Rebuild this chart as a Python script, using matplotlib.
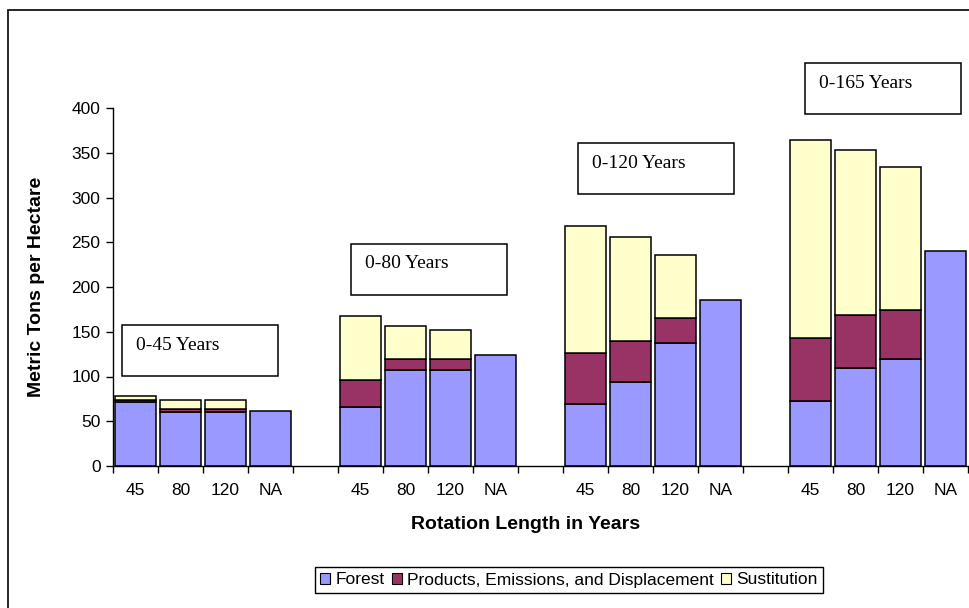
import matplotlib
matplotlib.use("Agg")
import matplotlib.pyplot as plt
from matplotlib.patches import Rectangle, Patch

# Values (metric tons per hectare)
periods = ["0-45 Years", "0-80 Years", "0-120 Years", "0-165 Years"]
rotations = ["45", "80", "120", "NA"]
forest = [
    [72, 60, 60, 61],
    [66, 107, 107, 124],
    [69, 94, 137, 186],
    [73, 109, 120, 240],
]
products = [
    [2, 4, 4, 0],
    [30, 13, 13, 0],
    [57, 46, 28, 0],
    [70, 60, 54, 0],
]
substitution = [
    [4, 10, 10, 0],
    [72, 36, 32, 0],
    [142, 116, 71, 0],
    [221, 184, 160, 0],
]
series_names = ["Forest", "Products, Emissions, and Displacement", "Sustitution"]
colors = ["#9999FF", "#993366", "#FFFFCC"]

W, H = 969, 608


def fx(px):
    return px / W


def fy(py):
    return 1 - py / H


def main():
    plt.rcParams["font.family"] = ["Liberation Sans", "DejaVu Sans"]
    fig = plt.figure(figsize=(W / 100, H / 100), dpi=100)
    ax = fig.add_axes([fx(113), fy(466), (968 - 113) / W, (466 - 108) / H])

    # slot layout: 4 bars per group, one empty slot between groups
    centers, labels = [], []
    for g in range(len(periods)):
        xs = [g * 5 + j + 0.5 for j in range(len(rotations))]
        f = forest[g]
        p = products[g]
        s = substitution[g]
        bot2 = [a + b for a, b in zip(f, p)]
        kw = dict(width=0.92, edgecolor="black", linewidth=1.1)
        ax.bar(xs, f, color=colors[0], **kw)
        ax.bar(xs[:3], p[:3], bottom=f[:3], color=colors[1], **kw)
        ax.bar(xs[:3], s[:3], bottom=bot2[:3], color=colors[2], **kw)
        centers += xs
        labels += rotations

    ax.set_xlim(0, 19)
    ax.set_ylim(0, 400)
    ax.set_yticks(range(0, 401, 50))
    ax.set_xticks(range(0, 20))
    ax.set_xticklabels([])
    ax.set_xticks(centers, minor=True)
    ax.set_xticklabels(labels, minor=True)
    ax.tick_params(axis="x", which="major", length=5, width=1, direction="out")
    ax.tick_params(axis="x", which="minor", length=0, pad=12, labelsize=12.5)
    ax.tick_params(axis="y", length=5, width=1, labelsize=12.5, pad=4)
    for side in ["top", "right"]:
        ax.spines[side].set_visible(False)
    for side in ["left", "bottom"]:
        ax.spines[side].set_linewidth(1)

    ax.set_xlabel("Rotation Length in Years", fontsize=14, fontweight="bold",
                  labelpad=13)
    ax.xaxis.set_label_coords((526 - 113) / (968 - 113), -0.14)
    ax.set_ylabel("Metric Tons per Hectare", fontsize=14, fontweight="bold")
    ax.yaxis.set_label_coords((45 - 113) / (968 - 113), 0.5)

    # period text boxes
    boxes = [(122, 325), (351, 244), (578, 143), (805, 63)]
    for (bx, by), txt in zip(boxes, periods):
        fig.add_artist(Rectangle((fx(bx), fy(by + 51)), 156 / W, 51 / H,
                                 transform=fig.transFigure, facecolor="white",
                                 edgecolor="black", linewidth=1.1))
        fig.text(fx(bx + 14), fy(by + 20), txt, family="Liberation Serif",
                 fontsize=14, ha="left", va="center")

    # outer chart border
    fig.add_artist(Rectangle((fx(8), -0.05), 1.2, fy(10) + 0.05,
                             transform=fig.transFigure, fill=False,
                             edgecolor="black", linewidth=1.2))

    handles = [Patch(facecolor=c, edgecolor="black", linewidth=0.8) for c in colors]
    fig.legend(handles, series_names, loc="center", bbox_to_anchor=(fx(569), fy(580)),
               ncol=3, frameon=True, fancybox=False, edgecolor="black",
               fontsize=12.5, handlelength=0.6, handleheight=0.6,
               handletextpad=0.3, columnspacing=0.4, borderpad=0.3,
               borderaxespad=0, framealpha=1)

    fig.savefig("out.png", dpi=100)


if __name__ == "__main__":
    main()
